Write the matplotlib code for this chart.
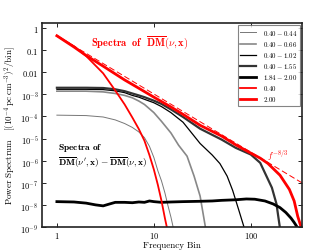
import matplotlib
matplotlib.use("Agg")
import matplotlib.pyplot as plt

plt.rcParams["mathtext.fontset"] = "cm"
plt.rcParams["font.family"] = "serif"
plt.rcParams["font.serif"] = ["cmr10", "DejaVu Serif"]
plt.rcParams["axes.unicode_minus"] = False

# red spectra of DM(nu, x)
red_thick_x = [1, 1.5, 2, 3, 5, 7, 10, 15, 20, 30, 50, 70, 100, 125, 150, 200, 250, 280, 305, 330]
red_thick_y = [0.45, 0.14, 0.058, 0.019, 4.5e-3, 1.9e-3, 7.5e-4, 2.7e-4, 1.25e-4, 4.0e-5,
               1.3e-5, 5.2e-6, 2.2e-6, 1.3e-6, 7.5e-7, 2.2e-7, 5e-8, 1.5e-8, 3e-9, 1e-9]
red_thin_x = [1, 1.5, 2, 3, 4, 5, 6, 7, 8, 9, 10, 11, 12, 13, 13.6]
red_thin_y = [0.45, 0.15, 0.055, 9e-3, 1.5e-3, 3.5e-4, 9e-5, 2.7e-5, 8e-6, 1.8e-6,
              4e-7, 8e-8, 1.5e-8, 2.5e-9, 1e-9]
dash_x = [1, 336]
dash_y = [0.45, 1.0e-7]

# black difference spectra
d044_x = [1, 2, 3, 4, 5, 6, 7, 8, 9, 10, 11, 12, 13, 14, 15, 15.8]
d044_y = [1.15e-4, 1.1e-4, 9.5e-5, 7e-5, 4.8e-5, 3.2e-5, 2e-5, 1.1e-5, 4.5e-6, 1.4e-6,
          3.5e-7, 1.2e-7, 3.5e-8, 9e-9, 2.8e-9, 1e-9]
d066_x = [1, 2, 3, 4, 5, 6, 7, 8, 10, 12, 15, 18, 22, 26, 30, 34]
d066_y = [1.4e-3, 1.4e-3, 1.3e-3, 1.1e-3, 9e-4, 7e-4, 5e-4, 3.5e-4, 1.5e-4, 6e-5,
          1.8e-5, 5e-6, 1.6e-6, 2e-7, 2.5e-8, 1e-9]
d102_x = [1, 2, 3, 4, 5, 6, 7, 8, 10, 12, 15, 20, 30, 40, 48, 57, 65, 75, 85]
d102_y = [1.7e-3, 1.7e-3, 1.65e-3, 1.45e-3, 1.2e-3, 9e-4, 7.5e-4, 6e-4, 4.2e-4, 2.8e-4,
          1.5e-4, 5.5e-5, 6e-6, 1.8e-6, 7.4e-7, 2e-7, 4.5e-8, 6e-9, 1e-9]
d155_x = [1, 2, 3, 4, 5, 6, 7, 8, 10, 12, 15, 20, 30, 50, 70, 100, 125, 145, 165, 184, 199]
d155_y = [2.0e-3, 2.0e-3, 1.95e-3, 1.7e-3, 1.4e-3, 1.1e-3, 9e-4, 7.5e-4, 5.2e-4, 3.7e-4,
          2.1e-4, 9.5e-5, 2.8e-5, 9e-6, 3.8e-6, 1.9e-6, 8e-7, 2e-7, 6e-8, 1.1e-8, 1e-9]
d184_x = [1, 1.5, 2, 2.5, 3, 3.5, 4, 5, 6, 7, 8, 9, 10, 12, 15, 20, 30, 40, 50, 70, 90,
          110, 140, 170, 200, 230, 260, 280, 300]
d184_y = [1.4e-8, 1.35e-8, 1.2e-8, 1.0e-8, 9e-9, 1.1e-8, 1.3e-8, 1.3e-8, 1.25e-8, 1.35e-8,
          1.3e-8, 1.5e-8, 1.4e-8, 1.3e-8, 1.35e-8, 1.4e-8, 1.45e-8, 1.5e-8, 1.6e-8, 1.7e-8,
          1.85e-8, 1.8e-8, 1.5e-8, 1.1e-8, 7.5e-9, 4.5e-9, 2.5e-9, 1.6e-9, 1e-9]

ytick_vals = [1, 0.1, 0.01, 1e-3, 1e-4, 1e-5, 1e-6, 1e-7, 1e-8, 1e-9]
ytick_labels = ["$1$", "$0.1$", "$0.01$"] + ["$10^{-%d}$" % k for k in range(3, 10)]
xtick_vals = [1, 10, 100]
xtick_labels = ["$1$", "$10$", "$100$"]

fig = plt.figure(figsize=(3.35, 2.53), dpi=100)
ax = fig.add_axes([0.125, 0.099, 0.776, 0.806])

ax.plot(d044_x, d044_y, color="#777777", lw=0.7, label=r"$0.40-0.44$")
ax.plot(d066_x, d066_y, color="#888888", lw=1.2, label=r"$0.40-0.66$")
ax.plot(d102_x, d102_y, color="black", lw=0.9, label=r"$0.40-1.02$")
ax.plot(d155_x, d155_y, color="#333333", lw=1.6, label=r"$0.40-1.55$")
ax.plot(d184_x, d184_y, color="black", lw=2.0, label=r"$1.84-2.00$")
ax.plot(red_thin_x, red_thin_y, color="red", lw=1.3, label=r"$0.40$")
ax.plot(red_thick_x, red_thick_y, color="red", lw=2.0, label=r"$2.00$")
ax.plot(dash_x, dash_y, color="red", lw=0.7, ls=(0, (6, 3)))

ax.set_xscale("log")
ax.set_yscale("log")
ax.set_xlim(0.7, 336)
ax.set_ylim(1e-9, 1.7)
ax.set_xticks(xtick_vals)
ax.set_xticklabels(xtick_labels)
ax.set_yticks(ytick_vals)
ax.set_yticklabels(ytick_labels)
ax.minorticks_off()
ax.tick_params(direction="in", top=True, right=True, labelsize=6, length=3, width=0.6, pad=2.5)
for s in ax.spines.values():
    s.set_linewidth(1.2)
    s.set_color("#222222")

ax.set_xlabel("Frequency Bin", fontsize=6.5, labelpad=0)
ax.set_ylabel(r"Power Spectrum   $[(10^{-4}\,{\rm pc\,cm^{-3}})^2/{\rm bin}]$", fontsize=6.5, labelpad=2)

ax.text(0.19, 0.907, r"$\mathbf{Spectra\ \ of}\ \ \overline{\mathbf{DM}}(\nu,\mathbf{x})$",
        transform=ax.transAxes, color="red", fontsize=7.5, va="center")
ax.text(0.062, 0.39, r"$\mathbf{Spectra\ of}$", transform=ax.transAxes, fontsize=6.8, va="center")
ax.text(0.062, 0.318, r"$\overline{\mathbf{DM}}(\nu',\mathbf{x})-\overline{\mathbf{DM}}(\nu,\mathbf{x})$",
        transform=ax.transAxes, fontsize=6.8, va="center")
ax.text(0.865, 0.355, r"$f^{-8/3}$", transform=ax.transAxes, color="red", fontsize=6.5, va="center")

leg = ax.legend(loc="upper right", fontsize=5, frameon=True, fancybox=False,
                handlelength=2.2, borderpad=0.4, labelspacing=0.3, handletextpad=1.0,
                borderaxespad=0.3)
leg.get_frame().set_edgecolor("#666666")
leg.get_frame().set_linewidth(0.8)

fig.savefig("out.png", dpi=100)
